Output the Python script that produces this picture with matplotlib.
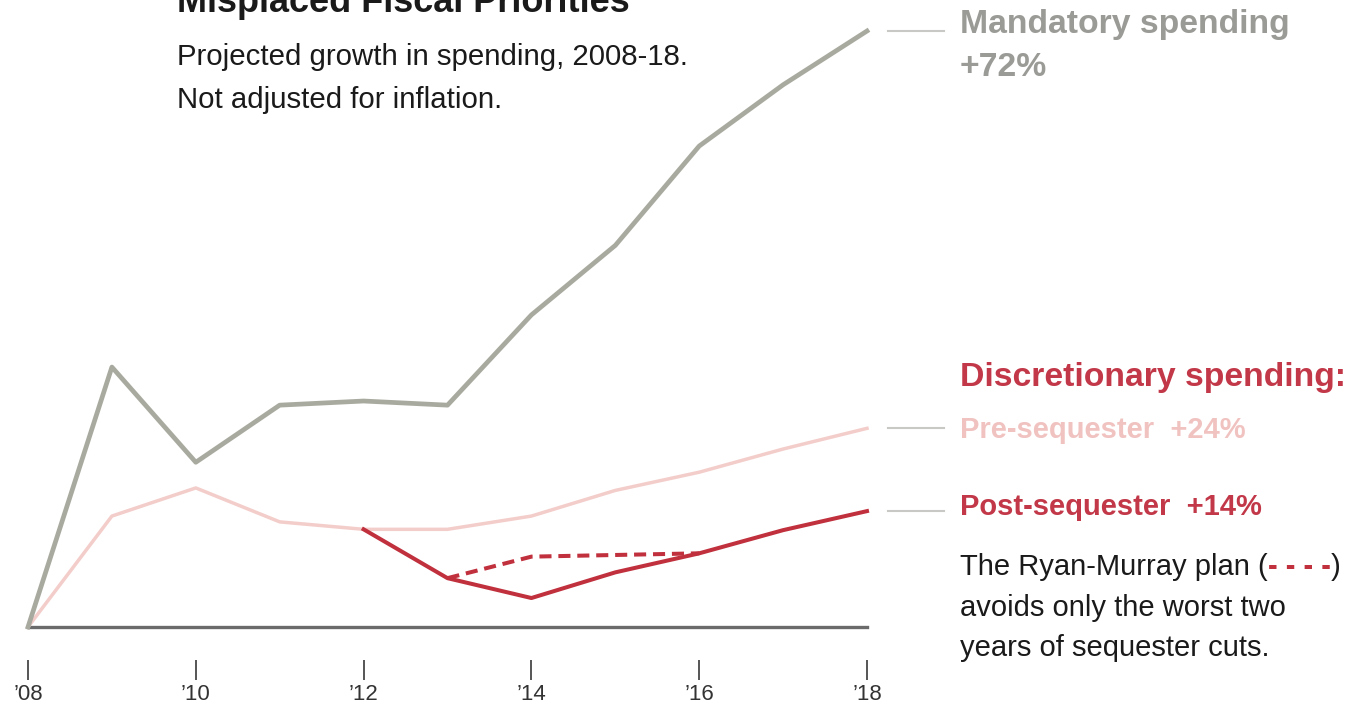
import matplotlib
matplotlib.use("Agg")
import matplotlib.pyplot as plt

plt.rcParams["font.family"] = ["Liberation Sans", "DejaVu Sans"]

# Projected growth in spending since 2008, percent
years = list(range(2008, 2019))
mandatory = [0, 31.4, 19.9, 26.8, 27.3, 26.8, 37.7, 46.1, 58.1, 65.5, 72]
pre_sequester = [0, 13.4, 16.8, 12.7, 11.8, 11.8, 13.4, 16.5, 18.7, 21.5, 24]
post_years = list(range(2012, 2019))
post_sequester = [11.8, 5.9, 3.5, 6.6, 8.9, 11.7, 14]
ryan_years = [2013, 2014, 2015, 2016]
ryan_murray = [5.9, 8.5, 8.7, 8.9]
tick_years = [2008, 2010, 2012, 2014, 2016, 2018]
tick_labels = ["\u201908", "\u201910", "\u201912", "\u201914", "\u201916", "\u201918"]

GRAY_LINE = "#a9aa9f"
GRAY_TEXT = "#9a9a96"
PINK = "#f3cdca"
PINK_TEXT = "#f0c2c0"
RED = "#c0303d"
RED_TEXT = "#c23848"
INK = "#1a1a1a"

W, H = 1356, 728
fig = plt.figure(figsize=(W / 100, H / 100), dpi=100)
ax = fig.add_axes([28 / W, 101 / H, (867 - 28) / W, 596 / H])
ax.set_xlim(2008, 2018)
ax.set_ylim(0, 72)

ax.axhline(0, color="#6b6b6b", lw=2.4, zorder=1, clip_on=False)
ax.plot(years, mandatory, color=GRAY_LINE, lw=3.4, zorder=3, clip_on=False)
ax.plot(years, pre_sequester, color=PINK, lw=2.5, zorder=2, clip_on=False)
ax.plot(post_years, post_sequester, color=RED, lw=2.9, zorder=4, clip_on=False)
ax.plot(ryan_years, ryan_murray, color=RED, lw=2.9, ls=(0, (3.0, 1.7)), zorder=4,
        clip_on=False)

# connector stubs from line ends to the labels
for val in (mandatory[-1], pre_sequester[-1], post_sequester[-1]):
    ax.plot([2018.25, 2018.92], [val, val], color="#c8c8c4", lw=1.5, clip_on=False)

for s in ax.spines.values():
    s.set_visible(False)
# tick row sits below the baseline, separated by a gap (offset in points)
ax.spines["bottom"].set_position(("outward", 23.8))
ax.set_yticks([])
ax.set_xticks(tick_years)
ax.set_xticklabels(tick_labels)
ax.tick_params(axis="x", direction="out", length=14.5, width=1.4, color="#555555",
               labelsize=16, labelcolor="#333333", pad=3)


def fp(x, y):
    return x / W, 1 - y / H


fig.text(*fp(177, 12), "Misplaced Fiscal Priorities", fontsize=26, fontweight="bold",
         color=INK, va="baseline")
fig.text(*fp(177, 57), "Projected growth in spending, 2008-18.", fontsize=21.2,
         color=INK, va="center")
fig.text(*fp(177, 100), "Not adjusted for inflation.", fontsize=21.2,
         color=INK, va="center")

fig.text(*fp(960, 25), "Mandatory spending", fontsize=24.3, fontweight="bold",
         color=GRAY_TEXT, va="center")
fig.text(*fp(960, 67), "+72%", fontsize=24.3, fontweight="bold",
         color=GRAY_TEXT, va="center")
fig.text(*fp(960, 377), "Discretionary spending:", fontsize=24.3, fontweight="bold",
         color=RED_TEXT, va="center")
fig.text(*fp(960, 430), "Pre-sequester  +24%", fontsize=21, fontweight="bold",
         color=PINK_TEXT, va="center")
fig.text(*fp(960, 507), "Post-sequester  +14%", fontsize=21, fontweight="bold",
         color=RED_TEXT, va="center")

t1 = fig.text(*fp(960, 567), "The Ryan-Murray plan (", fontsize=21,
              color=INK, va="center")
t2 = ax.annotate("- - - -", xy=(1, 0.5), xycoords=t1, va="center", ha="left",
                 fontsize=21, fontweight="bold", color=RED)
ax.annotate(")", xy=(1, 0.5), xycoords=t2, va="center", ha="left",
            fontsize=21, color=INK)
fig.text(*fp(960, 608), "avoids only the worst two", fontsize=21,
         color=INK, va="center")
fig.text(*fp(960, 648), "years of sequester cuts.", fontsize=21,
         color=INK, va="center")

fig.savefig("out.png", dpi=100)
